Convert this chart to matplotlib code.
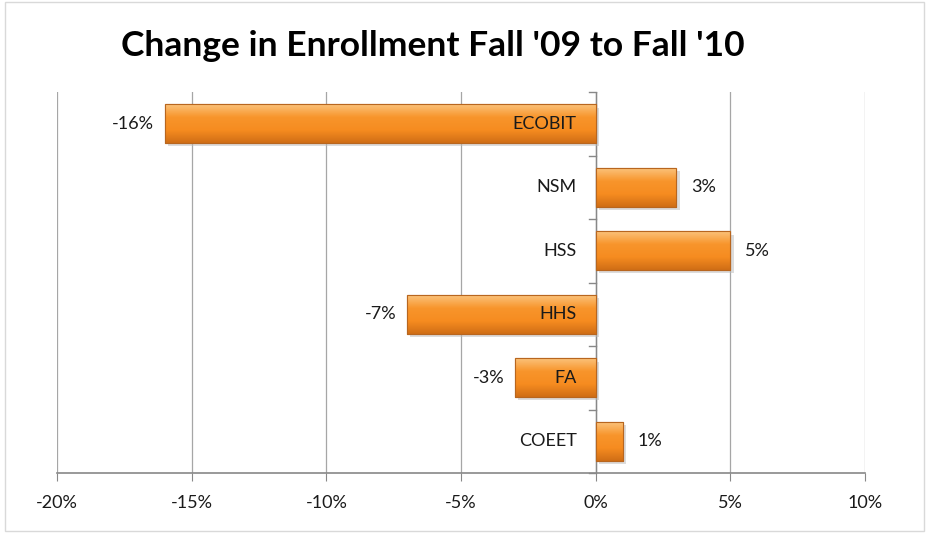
import matplotlib
matplotlib.use("Agg")
import matplotlib.pyplot as plt
import numpy as np
from matplotlib.patches import Rectangle
from matplotlib.colors import LinearSegmentedColormap

categories = ["ECOBIT", "NSM", "HSS", "HHS", "FA", "COEET"]
values = [-16, 3, 5, -7, -3, 1]
xticks = [-20, -15, -10, -5, 0, 5, 10]
xticklabels = ["-20%", "-15%", "-10%", "-5%", "0%", "5%", "10%"]
title = "Change in Enrollment Fall '09 to Fall '10"

plt.rcParams['font.family'] = ['Lato', 'DejaVu Sans']

fig = plt.figure(figsize=(9.29, 5.33), dpi=100)
W, H = 929, 533
ax = fig.add_axes([57 / W, 1 - 473 / H, (865 - 57) / W, (473 - 92) / H])

# chart border
fig.patches.append(Rectangle((5 / W, 2 / H), 1 - 10 / W, 1 - 4 / H, transform=fig.transFigure,
                             fill=False, edgecolor="#D9D9D9", linewidth=1))

n = len(categories)
ypos = np.arange(n)[::-1]  # top to bottom
ax.set_xlim(-20, 10)
ax.set_ylim(-0.5, n - 0.5)

cmap = LinearSegmentedColormap.from_list("o", ["#FBC27A", "#F8952C", "#F68C20", "#D06E16"])
grad = np.linspace(0, 1, 100).reshape(-1, 1)
bh = 0.61
fs = 13
bars = ax.barh(ypos, values, height=bh, color="#F68E23", edgecolor="#B8661F", linewidth=0.8, zorder=3)
for b in bars:
    x0, y0 = b.get_x(), b.get_y()
    w, h = b.get_width(), b.get_height()
    # shadow
    ax.add_patch(Rectangle((x0 + 0.12, y0 - 0.05), w, h, facecolor="#BBBBBB", alpha=0.5,
                           edgecolor="none", zorder=2))
    im = ax.imshow(grad, extent=[x0, x0 + w, y0, y0 + h], aspect="auto", cmap=cmap,
                   origin="upper", zorder=3.5)
    im.set_clip_path(b)
    ax.add_patch(Rectangle((x0, y0), w, h, fill=False, edgecolor="#B8661F", linewidth=0.8, zorder=4))

for y, v, c in zip(ypos, values, categories):
    ax.text(-0.7, y, c, ha="right", va="center", fontsize=fs, color="#1a1a1a", zorder=5)
    if v < 0:
        ax.text(v - 0.4, y, f"{v}%", ha="right", va="center", fontsize=fs, color="#1a1a1a", zorder=5)
    else:
        ax.text(v + 0.55, y, f"{v}%", ha="left", va="center", fontsize=fs, color="#1a1a1a", zorder=5)

ax.set_xticks(xticks)
ax.set_xticklabels(xticklabels, fontsize=fs, color="#1a1a1a")
ax.tick_params(axis="x", length=6, color="#888888", pad=10)
ax.set_yticks([])
ax.grid(axis="x", color="#A6A6A6", linewidth=0.9, zorder=0)
ax.set_axisbelow(True)
for s in ["top", "right", "left"]:
    ax.spines[s].set_visible(False)
ax.spines["bottom"].set_color("#888888")
ax.spines["bottom"].set_linewidth(1.2)

# vertical axis at zero with category boundary ticks
ax.axvline(0, color="#888888", linewidth=1.0, zorder=1)
for yb in np.arange(-0.5, n, 1.0):
    ax.plot([-0.25, 0], [yb, yb], color="#888888", linewidth=1.0, zorder=1, clip_on=False)

fig.text(433 / W, 1 - 46 / H, title, ha="center", va="center", fontsize=25.5, fontweight="bold",
         color="#000000")

fig.savefig("out.png", dpi=100)
